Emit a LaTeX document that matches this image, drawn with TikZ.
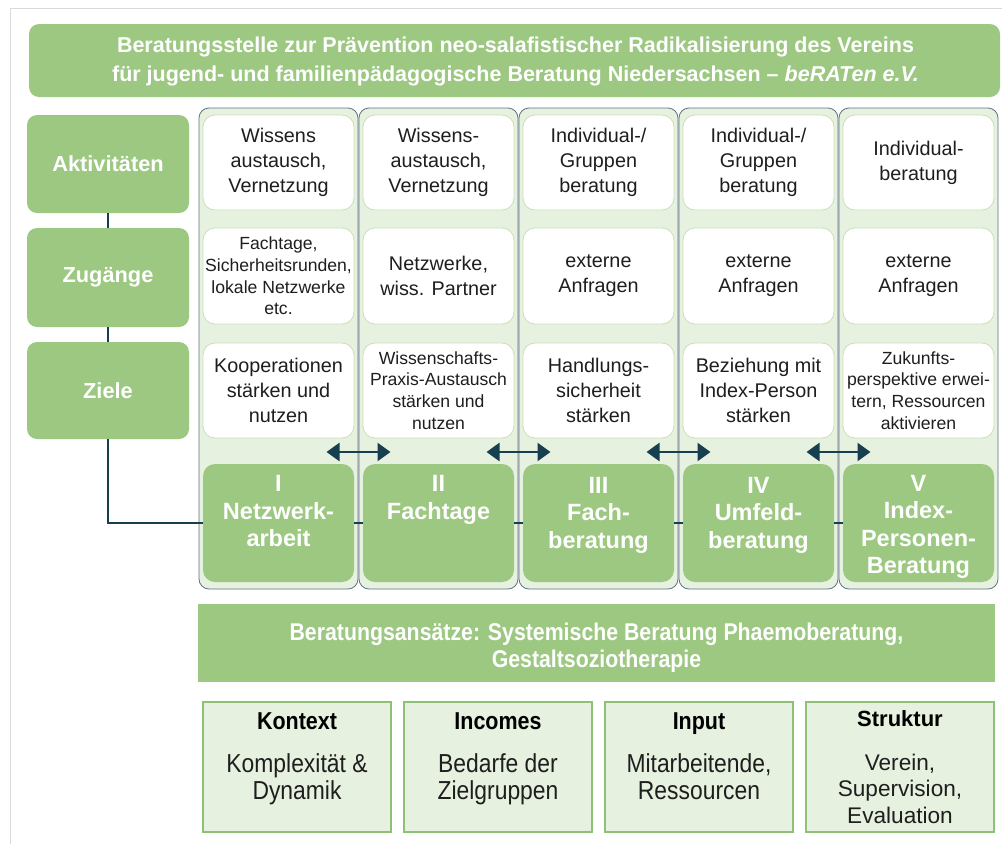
\documentclass[tikz,border=0pt]{standalone}
\usepackage{fontspec}
\setmainfont{Liberation Sans}
\newfontfamily\condf[FakeStretch=0.88]{Liberation Sans}
\usetikzlibrary{arrows.meta}
\definecolor{gr}{HTML}{9DC882}
\definecolor{lightg}{HTML}{E7F1E0}
\definecolor{colb}{HTML}{5F7380}
\definecolor{wb}{HTML}{C8E0B8}
\definecolor{dk}{HTML}{163F4F}
\definecolor{txt}{HTML}{1E1E1E}
\definecolor{bb}{HTML}{8DC276}
\definecolor{framec}{HTML}{DADADA}
\tikzset{
  every node/.style={inner sep=0pt, outer sep=0pt},
  titlebox/.style={fill=gr, rounded corners=10pt, minimum width=971pt, minimum height=73pt},
  titletext/.style={text=white, align=center, font=\bfseries\fontsize{21.5}{29}\selectfont},
  lab/.style={fill=gr, rounded corners=10pt, minimum width=162pt, text=white,
    font=\bfseries\fontsize{21.8}{25}\selectfont},
  colbox/.style={fill=lightg, draw=colb, line width=0.8pt, rounded corners=10pt,
    minimum width=159pt, minimum height=481pt},
  wbox/.style={fill=white, draw=wb, line width=0.8pt, rounded corners=12pt,
    minimum width=151pt, align=center, text=txt, font=\fontsize{19.8}{25}\selectfont},
  sm/.style={font=\fontsize{17.6}{21.7}\selectfont},
  gbox/.style={fill=gr, rounded corners=12pt, minimum width=151pt, minimum height=118pt},
  gtext/.style={anchor=north, align=center, text=white, font=\bfseries\fontsize{23.5}{27.5}\selectfont},
  conn/.style={draw=dk, line width=2.6pt},
  dbl/.style={draw=dk, line width=2.6pt, {Triangle[width=18pt,length=13pt]}-{Triangle[width=18pt,length=13pt]}},
  banner/.style={fill=gr, minimum width=797pt, minimum height=78pt},
  bantext/.style={text=white, align=center, font=\condf\bfseries\fontsize{24.2}{27}\selectfont},
  bbox/.style={fill=lightg, draw=bb, line width=2.4pt, minimum width=188pt, minimum height=130pt},
  btit/.style={anchor=base, text=black, font=\condf\bfseries\fontsize{24.4}{26}\selectfont},
  btit2/.style={anchor=base, text=black, font=\bfseries\fontsize{22}{26}\selectfont},
  bbody/.style={text=txt, align=center, font=\condf\fontsize{26}{27}\selectfont},
  bbody2/.style={text=txt, align=center, font=\fontsize{22.6}{26.5}\selectfont},
}
\begin{document}
\begin{tikzpicture}[x=1pt,y=-1pt]
\useasboundingbox (0,0) rectangle (1002,844);
% outer frame
\draw[framec, line width=1pt] (10,844) -- (10,8) -- (1002,8);

% title
\node[titlebox] (title) at (514.5,60.5) {};
\node[titletext] (titlet) at (515.5,61.5) {Beratungsstelle zur Prävention neo-salafistischer Radikalisierung des Vereins\\für jugend- und familienpädagogische Beratung Niedersachsen – \textit{beRATen e.V.}};

% left labels
\node[lab, minimum height=98pt] (akt) at (108,164) {Aktivitäten};
\node[lab, minimum height=99pt] (zug) at (108,277.5) {Zugänge};
\node[lab, minimum height=97pt] (zie) at (108,390.5) {Ziele};

% columns
\node[colbox] (c1) at (278.5,348.5) {};
\node[colbox] (c2) at (438.5,348.5) {};
\node[colbox] (c3) at (598.5,348.5) {};
\node[colbox] (c4) at (758.5,348.5) {};
\node[colbox] (c5) at (918.5,348.5) {};

% activities
\node[wbox, minimum height=95pt] (a1) at (278.5,162.5) {Wissens\\austausch,\\Vernetzung};
\node[wbox, minimum height=95pt] (a2) at (438.5,162.5) {Wissens-\\austausch,\\Vernetzung};
\node[wbox, minimum height=95pt] (a3) at (598.5,162.5) {Individual-/\\Gruppen\\beratung};
\node[wbox, minimum height=95pt] (a4) at (758.5,162.5) {Individual-/\\Gruppen\\beratung};
\node[wbox, minimum height=95pt] (a5) at (918.5,162.5) {Individual-\\beratung};

% access
\node[wbox, sm, minimum height=96pt] (z1) at (278.5,276) {Fachtage,\\Sicherheitsrunden,\\lokale Netzwerke\\etc.};
\node[wbox, minimum height=96pt] (z2) at (438.5,276) {Netzwerke,\\wiss. Partner};
\node[wbox, minimum height=96pt] (z3) at (598.5,276) {externe\\Anfragen};
\node[wbox, minimum height=96pt] (z4) at (758.5,276) {externe\\Anfragen};
\node[wbox, minimum height=96pt] (z5) at (918.5,276) {externe\\Anfragen};

% goals
\node[wbox, minimum height=95pt] (g1z) at (278.5,390.5) {Kooperationen\\stärken und\\nutzen};
\node[wbox, sm, minimum height=95pt] (g2z) at (438.5,390.5) {Wissenschafts-\\Praxis-Austausch\\stärken und\\nutzen};
\node[wbox, minimum height=95pt] (g3z) at (598.5,390.5) {Handlungs-\\sicherheit\\stärken};
\node[wbox, minimum height=95pt] (g4z) at (758.5,390.5) {Beziehung mit\\Index-Person\\stärken};
\node[wbox, sm, minimum height=95pt] (g5z) at (918.5,390.5) {Zukunfts-\\perspektive erwei-\\tern, Ressourcen\\aktivieren};

% connectors (behind green boxes)
\draw[conn] (akt) -- (zug);
\draw[conn] (zug) -- (zie);
\node[gbox] (g1) at (278.5,523) {};
\node[gbox] (g2) at (438.5,523) {};
\node[gbox] (g3) at (598.5,523) {};
\node[gbox] (g4) at (758.5,523) {};
\node[gbox] (g5) at (918.5,523) {};
\draw[conn] (zie.south) |- (g1.west);
\draw[conn] (g1.east) -- (g2.west);
\draw[conn] (g2.east) -- (g3.west);
\draw[conn] (g3.east) -- (g4.west);
\draw[conn] (g4.east) -- (g5.west);

\node[gtext] (t1) at (278.5,475.5) {I\\Netzwerk-\\arbeit};
\node[gtext] (t2) at (438.5,475.5) {II\\Fachtage};
\node[gtext] (t3) at (598.5,477) {III\\Fach-\\beratung};
\node[gtext] (t4) at (758.5,477) {IV\\Umfeld-\\beratung};
\node[gtext] (t5) at (918.5,475) {V\\Index-\\Personen-\\Beratung};

% double arrows
\coordinate (l1) at (326.5,452); \coordinate (r1) at (390.5,452);
\coordinate (l2) at (486.5,452); \coordinate (r2) at (550.5,452);
\coordinate (l3) at (646.5,452); \coordinate (r3) at (710.5,452);
\coordinate (l4) at (806.5,452); \coordinate (r4) at (870.5,452);
\draw[dbl] (l1) -- (r1);
\draw[dbl] (l2) -- (r2);
\draw[dbl] (l3) -- (r3);
\draw[dbl] (l4) -- (r4);

% banner
\node[banner] (ban) at (596.5,643) {};
\node[bantext] (bant) at (596.5,648) {Beratungsansätze: Systemische Beratung Phaemoberatung,\\Gestaltsoziotherapie};

% bottom boxes
\node[bbox] (b1) at (297,767) {};
\node[bbox] (b2) at (498,767) {};
\node[bbox] (b3) at (699,767) {};
\node[bbox] (b4) at (900,767) {};
\node[btit] (b1t) at (297,729) {Kontext};
\node[btit] (b2t) at (498,729) {Incomes};
\node[btit] (b3t) at (699,729) {Input};
\node[btit2] (b4t) at (900,726) {Struktur};
\node[bbody] (b1b) at (297,779) {Komplexität \&\\Dynamik};
\node[bbody] (b2b) at (498,779) {Bedarfe der\\Zielgruppen};
\node[bbody] (b3b) at (699,776.5) {Mitarbeitende,\\Ressourcen};
\node[bbody2] (b4b) at (900,788.5) {Verein,\\Supervision,\\Evaluation};
\end{tikzpicture}
\end{document}
